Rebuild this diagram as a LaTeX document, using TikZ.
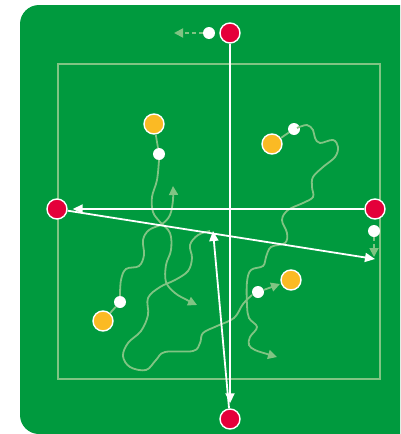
\documentclass[tikz,border=0pt]{standalone}
\usetikzlibrary{arrows.meta}
\definecolor{pitch}{RGB}{0,154,62}
\definecolor{pale}{RGB}{128,196,131}
\definecolor{redp}{RGB}{228,0,58}
\definecolor{yelp}{RGB}{251,186,36}
\tikzset{
  redplayer/.style={circle,fill=redp,draw=white,line width=1.4pt,minimum size=20pt,inner sep=0pt},
  yelplayer/.style={circle,fill=yelp,draw=white,line width=1.4pt,minimum size=20pt,inner sep=0pt},
  ball/.style={circle,fill=white,minimum size=12pt,inner sep=0pt},
  pass/.style={white,line width=1.8pt,-{Triangle[length=10pt,width=9pt]}},
  run/.style={pale,line width=1.8pt},
  runarrow/.style={run,-{Triangle[length=9pt,width=9pt]}},
  fieldline/.style={pale,line width=1.4pt}
}
\begin{document}
\begin{tikzpicture}[x=1pt,y=-1pt]
\clip (0,0) rectangle (400,434);
\fill[pitch,rounded corners=19pt] (20,5) rectangle (430,434);
% field
\draw[fieldline] (58,64) rectangle (380,379);
% players
\node[redplayer] (rt) at (230,33) {};
\node[redplayer] (rl) at (57,209) {};
\node[redplayer] (rr) at (375,209) {};
\node[redplayer] (rb) at (230,419) {};
\node[yelplayer] (y1) at (154,124) {};
\node[yelplayer] (y2) at (272,144) {};
\node[yelplayer] (y3) at (103,321) {};
\node[yelplayer] (y4) at (291,280) {};
\node[ball] (b1) at (209,33) {};
\node[ball] (b2) at (159,154) {};
\node[ball] (b3) at (294,129) {};
\node[ball] (b4) at (374,231) {};
\node[ball] (b5) at (120,302) {};
\node[ball] (b6) at (258,292) {};
\coordinate (tl) at (174,33);
\coordinate (td) at (374,257);
\coordinate (pa) at (213,231);
\coordinate (pd) at (375,259);
% short links
\draw[run] (y1) -- (b2);
\draw[run] (y2) -- (b3);
\draw[run] (y3) -- (b5);
\draw[run,dash pattern=on 4pt off 3pt,-{Triangle[length=9pt,width=9pt]}] (b1) -- (tl);
\draw[run,dash pattern=on 4pt off 3pt,-{Triangle[length=9pt,width=9pt]}] (b4) -- (td);
\draw[runarrow,shorten >=1pt] (b6) -- (y4);
% runs
\draw[runarrow] plot[smooth,tension=0.6] coordinates {(159,160) (157,180) (152,197) (153,212) (160,222) (170,233) (171,250) (166,265) (166,282) (175,293) (187,300) (197,305)};
\draw[runarrow] plot[smooth,tension=0.6] coordinates {(120,296) (121,280) (126,269) (139,266) (144,255) (143,240) (149,230) (162,224) (170,215) (173,200) (173,186)};
\draw[run] plot[smooth,tension=0.6] coordinates {(210,231) (198,235) (190,245) (192,258) (188,271) (175,280) (160,287) (148,298) (148,315) (141,331) (128,343) (123,356) (130,367) (146,370) (156,360) (165,352) (193,351) (200,343) (203,333) (217,326) (234,318) (243,304) (252,295)};
\draw[runarrow] plot[smooth,tension=0.6] coordinates {(297,128) (307,125) (313,130) (315,138) (320,143) (333,140) (338,147) (335,157) (323,167) (313,177) (312,187) (313,197) (303,203) (288,210) (282,220) (287,233) (285,243) (271,247) (266,257) (263,266) (251,270) (247,282) (247,305) (249,318) (257,327) (250,337) (249,345) (255,350) (267,354) (277,357)};
% passes
\draw[pass,shorten >=5pt] (rt) -- (rb);
\draw[pass] (rb) -- (pa);
\draw[pass,shorten >=5pt] (rr) -- (rl);
\draw[pass] (rl) -- (pd);
\end{tikzpicture}
\end{document}
